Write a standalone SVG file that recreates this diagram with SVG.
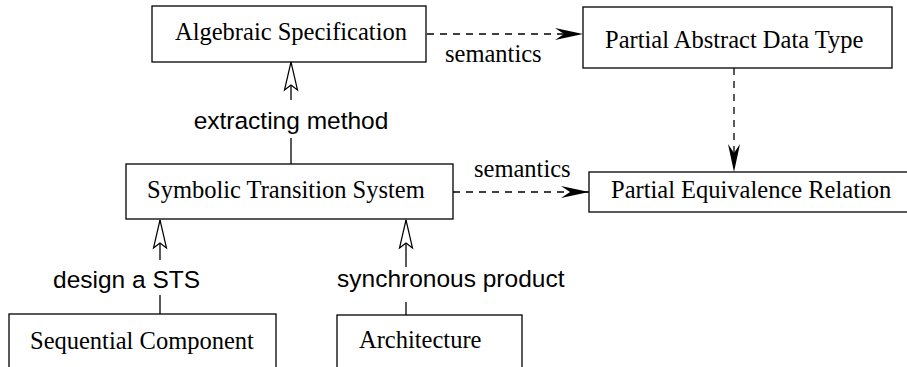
<svg xmlns="http://www.w3.org/2000/svg" width="907" height="367" viewBox="0 0 907 367">
  <style>
    .box { fill: #ffffff; stroke: #000000; stroke-width: 1.3; }
    .name { font-family: "Liberation Serif", "Times New Roman", serif; font-size: 24.5px; fill: #000000; }
    .lbl { font-family: "Liberation Sans", Arial, sans-serif; font-size: 24.5px; fill: #000000; }
    .edge { fill: none; stroke: #000000; stroke-width: 1.3; }
    .dash { stroke-dasharray: 7 6; }
  </style>
  <defs>
    <!-- hollow notched arrowhead for derivation edges -->
    <marker id="open" viewBox="-32 -9 34 18" markerWidth="34" markerHeight="18" refX="0" refY="0" markerUnits="userSpaceOnUse" orient="auto">
      <path d="M0,0 L-28,-6.5 L-23,0 L-28,6.5 Z" fill="#ffffff" stroke="#000000" stroke-width="1.2" stroke-linejoin="miter"/>
    </marker>
    <!-- solid notched arrowhead for semantic edges -->
    <marker id="solid" viewBox="-32 -9 34 18" markerWidth="34" markerHeight="18" refX="0" refY="0" markerUnits="userSpaceOnUse" orient="auto">
      <path d="M0,0 L-28,-6 L-19,0 L-28,6 Z" fill="#000000" stroke="none"/>
    </marker>
  </defs>
  <rect width="907" height="367" fill="#ffffff"/>

  <g id="connectors">
    <!-- Algebraic Specification -> Partial Abstract Data Type -->
    <path class="edge dash" d="M427,34 H583" marker-end="url(#solid)"/>
    <text class="name" x="445" y="62">semantics</text>
    <!-- Partial Abstract Data Type -> Partial Equivalence Relation -->
    <path class="edge dash" d="M734,68 V172" marker-end="url(#solid)"/>
    <!-- Symbolic Transition System -> Partial Equivalence Relation -->
    <path class="edge dash" d="M453,192 H589" marker-end="url(#solid)"/>
    <text class="name" x="474" y="177">semantics</text>
    <!-- Symbolic Transition System -> Algebraic Specification -->
    <path class="edge" d="M291,164 V138"/>
    <path class="edge" d="M291,100 V62" marker-end="url(#open)"/>
    <text class="lbl" x="291" y="129" text-anchor="middle">extracting method</text>
    <!-- Sequential Component -> Symbolic Transition System -->
    <path class="edge" d="M160,314 V295"/>
    <path class="edge" d="M160,260 V220" marker-end="url(#open)"/>
    <text class="lbl" x="53" y="288">design a STS</text>
    <!-- Architecture -> Symbolic Transition System -->
    <path class="edge" d="M406,315 V302"/>
    <path class="edge" d="M406,267 V220" marker-end="url(#open)"/>
    <text class="lbl" x="337" y="287">synchronous product</text>
  </g>

  <g id="algebraic-specification">
    <rect class="box" x="152" y="6" width="274" height="56"/>
    <text class="name" x="175" y="40">Algebraic Specification</text>
  </g>
  <g id="partial-abstract-data-type">
    <rect class="box" x="583" y="7" width="309" height="61"/>
    <text class="name" x="605" y="48">Partial Abstract Data Type</text>
  </g>
  <g id="symbolic-transition-system">
    <rect class="box" x="126" y="164" width="327" height="55"/>
    <text class="name" x="147" y="198">Symbolic Transition System</text>
  </g>
  <g id="partial-equivalence-relation">
    <rect class="box" x="589" y="172" width="340" height="40"/>
    <text class="name" x="611" y="198">Partial Equivalence Relation</text>
  </g>
  <g id="sequential-component">
    <rect class="box" x="9" y="314" width="267" height="80"/>
    <text class="name" x="30" y="349">Sequential Component</text>
  </g>
  <g id="architecture">
    <rect class="box" x="337" y="315" width="185" height="80"/>
    <text class="name" x="359" y="348">Architecture</text>
  </g>
</svg>
